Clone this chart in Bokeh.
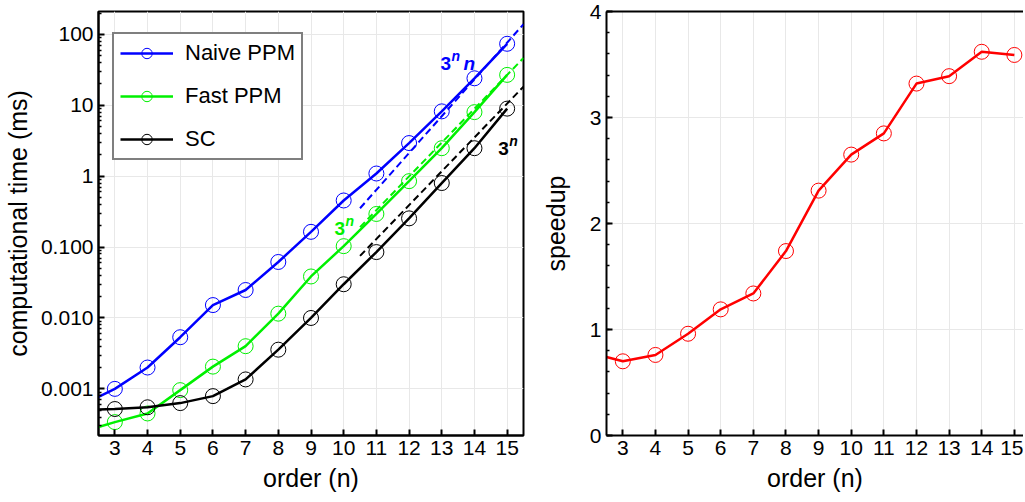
from bokeh.plotting import figure
from bokeh.layouts import row
from bokeh.models import (FixedTicker, LinearAxis, Legend, LegendItem,
                          SingleIntervalTicker, Range1d)
from bokeh.core.properties import value
from bokeh.embed import file_html
from bokeh.resources import INLINE

# ---------------- data ----------------
orders = [3, 4, 5, 6, 7, 8, 9, 10, 11, 12, 13, 14, 15]
naive_ppm = [0.0010, 0.0020, 0.00535, 0.0152, 0.0248, 0.0616, 0.164, 0.454, 1.09, 2.93, 8.2, 24.0, 73.6]
fast_ppm = [0.00034, 0.00045, 0.00096, 0.00206, 0.0040, 0.0115, 0.0385, 0.103, 0.293, 0.85, 2.48, 8.0, 26.8]
sc_time = [0.00052, 0.00055, 0.00063, 0.00079, 0.00136, 0.00357, 0.0100, 0.0299, 0.085, 0.254, 0.80, 2.48, 8.96]
speedup = [0.70, 0.76, 0.96, 1.19, 1.34, 1.74, 2.31, 2.65, 2.85, 3.32, 3.39, 3.62, 3.59]

# where the curves leave the left edge of the frame (order 2.5)
edge_order = [2.5]
naive_edge = [0.00077]
fast_edge = [0.00029]
sc_edge = [0.00051]
speedup_edge = [0.74]

# dashed scaling guides
guide_orders = [10.5, 15.5]
guide_naive = [0.353, 139.0]   # 3^n n
guide_fast = [0.191, 46.4]     # 3^n
guide_sc = [0.075, 18.3]       # 3^n

# annotations
ann_orders = [12.96, 9.72, 14.73]
ann_times = [38.5, 0.181, 2.43]
ann_base = ["3", "3", "3"]
ann_sup = ["n", "n", "n"]
ann_suffix = ["n", "", ""]

series_labels = ["Naive PPM", "Fast PPM", "SC"]

time_ticks = [0.001, 0.01, 0.1, 1, 10, 100]
time_tick_labels = ["0.001", "0.010", "0.100", "1", "10", "100"]

# ---------------- style ----------------
FONT = "Liberation Sans"
BLUE = "#0000ff"
GREEN = "#00f000"
BLACK = "#000000"
RED = "#ff0000"
GRID = "#e8e8e8"
ann_colors = [BLUE, GREEN, BLACK]


def style_axis(ax, label, label_standoff, label_size="25px", tick_standoff=5):
    ax.axis_label = label
    ax.axis_label_text_font = FONT
    ax.axis_label_text_font_size = label_size
    ax.axis_label_text_font_style = "normal"
    ax.axis_label_text_color = "black"
    ax.axis_label_standoff = label_standoff
    ax.major_label_text_font = FONT
    ax.major_label_text_font_size = "21px"
    ax.major_label_text_color = "black"
    ax.major_label_standoff = tick_standoff
    ax.axis_line_width = 2
    ax.axis_line_color = "black"
    ax.major_tick_line_width = 2
    ax.major_tick_line_color = "black"
    ax.major_tick_in = 6
    ax.major_tick_out = 0
    ax.minor_tick_line_width = 1.5
    ax.minor_tick_line_color = "black"
    ax.minor_tick_in = 3
    ax.minor_tick_out = 0


# ---------------- left figure ----------------
p1 = figure(width=533, height=500,
            x_range=Range1d(2.5, 15.5), y_range=Range1d(0.00022, 210),
            y_axis_type="log", output_backend="svg", toolbar_location=None,
            min_border_left=98, min_border_right=10, min_border_top=11,
            min_border_bottom=65)
p1.outline_line_color = "black"
p1.outline_line_width = 2
p1.background_fill_color = "white"
p1.border_fill_color = "white"

minor_log = [m * 10.0 ** e for e in range(-4, 3) for m in range(2, 10)]
p1.yaxis.ticker = FixedTicker(ticks=time_ticks, minor_ticks=minor_log)
p1.yaxis.major_label_overrides = dict(zip(time_ticks, time_tick_labels))
p1.xaxis.ticker = FixedTicker(ticks=orders)
style_axis(p1.xaxis[0], "order (n)", 6, "25px", 5)
style_axis(p1.yaxis[0], "computational time (ms)", 6)
p1.xaxis.minor_tick_line_color = None
p1.xgrid.ticker = FixedTicker(ticks=orders)
p1.xgrid.grid_line_color = GRID
p1.ygrid.grid_line_color = GRID

items = []
for lab, vals, edge, col in zip(series_labels, [naive_ppm, fast_ppm, sc_time],
                                [naive_edge, fast_edge, sc_edge], [BLUE, GREEN, BLACK]):
    lr = p1.line(edge_order + orders, edge + vals, line_color=col, line_width=2.5)
    sr = p1.scatter(orders, vals, marker="circle", size=15, fill_color=None,
                    line_color=col, line_width=1)
    items.append(LegendItem(label=lab, renderers=[lr, sr]))

for vals, col in zip([guide_naive, guide_fast, guide_sc], [BLUE, GREEN, BLACK]):
    p1.line(guide_orders, vals, line_color=col, line_width=2, line_dash="7 4")

p1.text(x=ann_orders, y=ann_times, text=ann_base, text_color=ann_colors,
        text_font=value(FONT), text_font_size="19px", text_font_style="bold",
        text_baseline="alphabetic", text_align="left")
p1.text(x=ann_orders, y=ann_times, text=ann_sup, text_color=ann_colors,
        text_font=value(FONT), text_font_size="14px", text_font_style="bold italic",
        text_baseline="alphabetic", text_align="left", x_offset=11, y_offset=-8)
p1.text(x=ann_orders, y=ann_times, text=ann_suffix, text_color=ann_colors,
        text_font=value(FONT), text_font_size="19px", text_font_style="bold italic",
        text_baseline="alphabetic", text_align="left", x_offset=23)

legend = Legend(items=items, location=(14, 275), margin=0)
legend.border_line_color = "black"
legend.border_line_width = 2
legend.background_fill_color = "white"
legend.background_fill_alpha = 1
legend.label_text_font = FONT
legend.label_text_font_size = "22px"
legend.label_text_color = "black"
legend.glyph_width = 53
legend.glyph_height = 26
legend.spacing = 17
legend.padding = 6
legend.label_standoff = 12
p1.add_layout(legend)

# ---------------- right figure ----------------
p2 = figure(width=490, height=500,
            x_range=Range1d(2.5, 15.28), y_range=Range1d(0, 4),
            output_backend="svg", toolbar_location=None,
            min_border_left=73, min_border_right=0, min_border_top=11,
            min_border_bottom=65)
p2.outline_line_color = None
p2.background_fill_color = "white"
p2.border_fill_color = "white"
p2.xaxis.ticker = FixedTicker(ticks=orders)
p2.yaxis.ticker = SingleIntervalTicker(interval=1, num_minor_ticks=5)
style_axis(p2.xaxis[0], "order (n)", 6, "25px", 5)
style_axis(p2.yaxis[0], "speedup", 17)
p2.xaxis.minor_tick_line_color = None
p2.xgrid.ticker = FixedTicker(ticks=orders)
p2.xgrid.grid_line_color = GRID
p2.ygrid.grid_line_color = GRID

top_axis = LinearAxis(ticker=FixedTicker(ticks=[]),
                      major_tick_line_color=None, minor_tick_line_color=None,
                      major_label_standoff=0, axis_line_width=2, axis_line_color="black")
p2.add_layout(top_axis, "above")

p2.line(edge_order + orders, speedup_edge + speedup, line_color=RED, line_width=2.5)
p2.scatter(orders, speedup, marker="circle", size=15, fill_color=None,
           line_color=RED, line_width=1)

layout = row(p1, p2)
open("out.html", "w").write(file_html(layout, INLINE))
